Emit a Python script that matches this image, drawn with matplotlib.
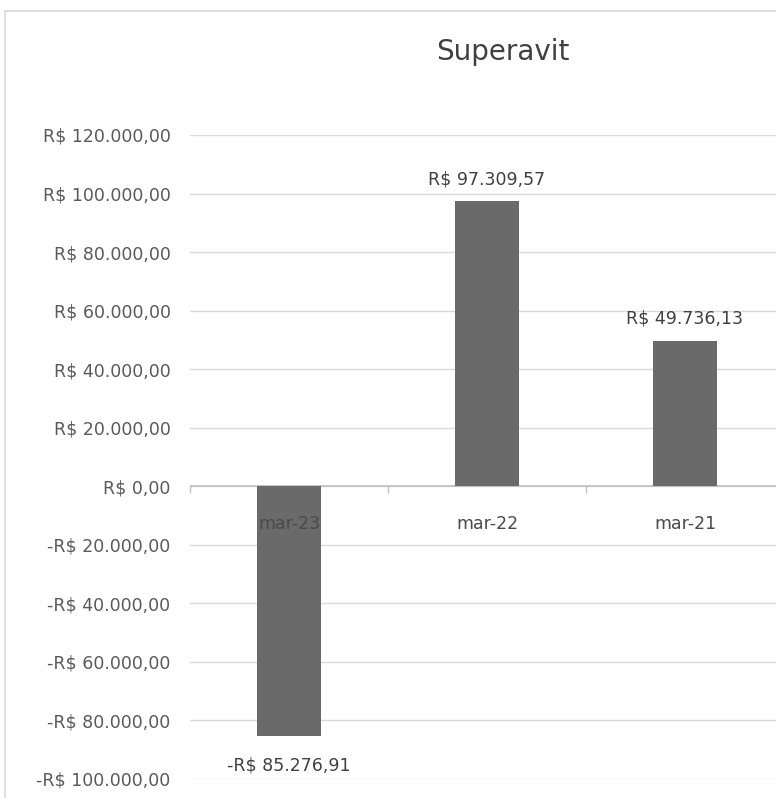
import matplotlib.pyplot as plt
from matplotlib.patches import Rectangle
from matplotlib.ticker import FuncFormatter, MultipleLocator

categories = ['mar-23', 'mar-22', 'mar-21']
values = [-85276.91, 97309.57, 49736.13]

bar_color = '#6a6a6a'
text_color = '#595959'
grid_color = '#d9d9d9'


def brl(v, pos=None):
    s = '{:,.2f}'.format(abs(v)).replace(',', 'X').replace('.', ',').replace('X', '.')
    return ('-R$ ' if v < 0 else 'R$ ') + s


plt.rcParams['font.family'] = ['DejaVu Sans']

W, H = 776, 798
fig = plt.figure(figsize=(W / 100, H / 100), dpi=100)

# chart area border (right and bottom cropped in reference)
fig.patches.append(Rectangle((5 / W, -0.05), 1.1, (H - 11) / H + 0.05,
                             transform=fig.transFigure, fill=False,
                             edgecolor='#d9d9d9', linewidth=1.2))

ax = fig.add_axes([190 / W, (H - 779) / H, (784 - 190) / W, (779 - 135) / H])

x = range(len(categories))
ax.bar(x, values, width=0.32, color=bar_color, zorder=3)

ax.set_xlim(-0.5, len(categories) - 0.5)
ax.set_ylim(-100000, 120000)
ax.yaxis.set_major_locator(MultipleLocator(20000))
ax.yaxis.set_major_formatter(FuncFormatter(brl))
ax.grid(axis='y', color=grid_color, linewidth=1, zorder=0)
ax.tick_params(axis='y', length=0, pad=14, labelsize=12.5, labelcolor=text_color)

for s in ['top', 'right', 'left', 'bottom']:
    ax.spines[s].set_visible(False)
ax.set_xticks([])

# category axis on the zero line
ax.axhline(0, color='#bfbfbf', linewidth=1.2, zorder=2)
for b in [-0.5, 0.5, 1.5, 2.5]:
    ax.plot([b], [0], marker=3, markersize=5, color='#bfbfbf', clip_on=False)

for i, c in enumerate(categories):
    ax.annotate(c, (i, 0), xytext=(0, -38), textcoords='offset pixels',
                ha='center', va='center', fontsize=12.5, color='#4a4a4a', zorder=4)

# data labels
for i, v in enumerate(values):
    off = 22 if v >= 0 else -30
    ax.annotate(brl(v), (i, v), xytext=(0, off), textcoords='offset pixels',
                ha='center', va='center', fontsize=12.5, color='#404040', zorder=4)

fig.text(503 / W, 1 - 52 / H, 'Superavit', ha='center', va='center',
         fontsize=20, color='#404040')

fig.savefig('out.png', dpi=100)
